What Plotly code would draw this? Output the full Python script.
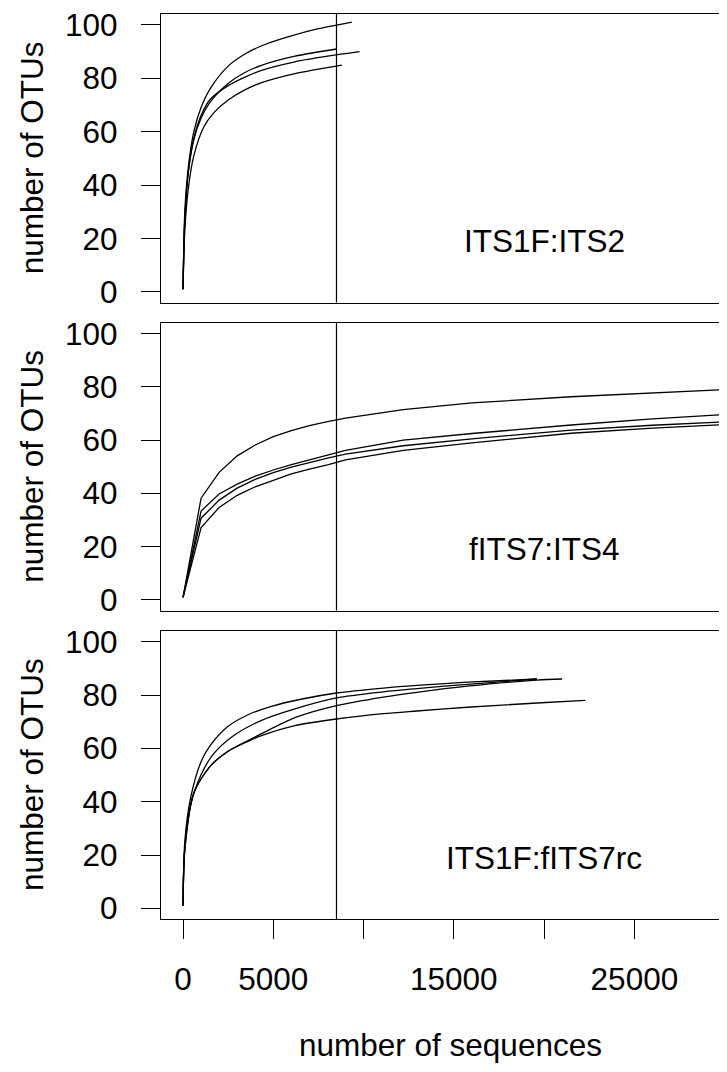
import plotly.graph_objects as go

# ---------------- data ----------------
panel_labels = ["ITS1F:ITS2", "fITS7:ITS4", "ITS1F:fITS7rc"]
y_tick_vals = [0, 20, 40, 60, 80, 100]
x_tick_vals = [0, 5000, 10000, 15000, 20000, 25000, 30000]
x_tick_text = ["0", "5000", "", "15000", "", "25000", ""]
rarefy_depth = 8500
label_x, label_y = 20000, 19

# panel 1: ITS1F:ITS2
p1_a_x = [1, 100, 300, 600, 1000, 1500, 2500, 3500, 4500, 6000, 7500, 9350]
p1_a_y = [1, 30, 47, 60, 69, 76, 84.5, 89.3, 92.5, 95.8, 98.5, 101]
p1_b_x = [1, 100, 300, 600, 1000, 1500, 2500, 3400, 4350, 6200, 8500]
p1_b_y = [1, 27, 45, 57, 65, 71, 78, 82, 84.8, 88.2, 90.9]
p1_c_x = [1, 100, 300, 600, 1000, 1500, 2500, 3400, 4350, 6200, 8100, 9780]
p1_c_y = [1, 27, 45.5, 57.5, 66, 72, 77.2, 80.3, 82.9, 86.1, 88.3, 89.9]
p1_d_x = [1, 100, 300, 600, 1150, 1700, 2500, 3400, 4350, 6200, 8800]
p1_d_y = [1, 23, 39, 51, 61.7, 67, 71.8, 75.5, 78.3, 81.7, 84.9]

# panel 2: fITS7:ITS4 (coarse steps of 1000 sequences)
p2_x = [1, 1000, 2000, 3000, 4000, 5000, 6000, 7000, 8000, 9000, 12200, 16000, 21500, 26000, 30480]
p2_e_y = [1, 38.2, 47.9, 54.1, 58.2, 61.3, 63.6, 65.5, 67, 68.3, 71.5, 74, 76.3, 77.8, 79.1]
p2_f_y = [1, 33.4, 39.8, 43.5, 46.5, 48.8, 50.8, 52.6, 54.2, 56.2, 60, 62.5, 65.7, 68, 69.8]
p2_g_y = [1, 30.7, 37.5, 42, 45.3, 47.8, 49.9, 51.7, 53.3, 54.8, 57.9, 60.5, 63.8, 65.6, 67]
p2_h_y = [1, 27.2, 34.7, 39.3, 42.5, 45, 47.3, 49.1, 50.7, 52.6, 56.2, 59, 62.6, 64.5, 66]

# panel 3: ITS1F:fITS7rc
p3_p_x = [1, 100, 400, 1000, 1500, 2500, 3600, 4900, 6600, 8500, 11100, 12950, 15750, 19600]
p3_p_y = [1, 25, 40.75, 55, 61, 68.25, 72.6, 75.75, 78.5, 80.75, 82.6, 83.6, 84.8, 86]
p3_q_x = [1, 100, 400, 1000, 1700, 2850, 4350, 6200, 8500, 11100, 12950, 15750, 19600]
p3_q_y = [1, 23, 38.25, 50.1, 58, 65, 70.5, 74.8, 78.9, 81.2, 82.4, 84, 86]
p3_r_x = [1, 100, 600, 1500, 2500, 3600, 4350, 6200, 8500, 11100, 12950, 15750, 19600, 21000]
p3_r_y = [1, 22, 43.25, 53.25, 58.9, 62.9, 65.5, 71.5, 76, 79.2, 81, 83.3, 85.6, 86]
p3_s_x = [1, 100, 600, 1500, 2500, 3600, 4350, 6200, 8500, 11100, 12950, 15750, 19600, 22280]
p3_s_y = [1, 22, 43.25, 53.25, 58.9, 62.6, 64.75, 68.5, 71, 73, 74, 75.4, 77, 78]

panels = [
    [(p1_a_x, p1_a_y), (p1_b_x, p1_b_y), (p1_c_x, p1_c_y), (p1_d_x, p1_d_y)],
    [(p2_x, p2_e_y), (p2_x, p2_f_y), (p2_x, p2_g_y), (p2_x, p2_h_y)],
    [(p3_p_x, p3_p_y), (p3_q_x, p3_q_y), (p3_r_x, p3_r_y), (p3_s_x, p3_s_y)],
]
panel_shape = ["spline", "linear", "spline"]

# ---------------- layout (page pixel positions, body margin = 8px) ----------------
OFF = 8
W, H = 727 - OFF, 1072 - OFF


def px(p):
    return p - OFF


ML = px(161)
MT = px(13.7)
MB = H - px(918.7)
plot_h = H - MT - MB
plot_w = W - ML
panel_px = [(13.7, 302.3), (322.7, 610.3), (630.7, 918.7)]
FONT = "Liberation Sans, Arial, sans-serif"
FS = 31.5
x_range = [-1219, 30579 - OFF * 56.18]


def frac(py):
    return (H - MB - px(py)) / plot_h


fig = go.Figure()
shapes = []
annotations = []
for i, curves in enumerate(panels):
    n = "" if i == 0 else str(i + 1)
    for cx, cy in curves:
        fig.add_trace(go.Scatter(
            x=cx, y=cy, mode="lines", xaxis="x" + n, yaxis="y" + n,
            line=dict(color="black", width=1.3, shape=panel_shape[i], smoothing=0.8),
            showlegend=False, hoverinfo="skip"))
    top, bot = panel_px[i]
    dom = [frac(bot), frac(top)]
    last = i == 2
    fig.layout["xaxis" + n] = dict(
        domain=[0, 1], anchor="y" + n, range=x_range, showgrid=False, zeroline=False,
        showline=True, mirror=True, linecolor="black", linewidth=1.2,
        ticks="outside" if last else "", ticklen=19, tickwidth=1.2, tickcolor="black",
        tickvals=x_tick_vals if last else [], ticktext=x_tick_text if last else [],
        showticklabels=last, ticklabelstandoff=13, ticklabeloverflow="allow",
        tickfont=dict(family=FONT, size=FS, color="black"))
    fig.layout["yaxis" + n] = dict(
        domain=dom, anchor="x" + n, range=[-4, 104], showgrid=False, zeroline=False,
        showline=True, linecolor="black", linewidth=1.2,
        ticks="outside", ticklen=19, tickwidth=1.2, tickcolor="black",
        tickvals=y_tick_vals, ticklabelstandoff=17, ticklabeloverflow="allow",
        tickfont=dict(family=FONT, size=FS, color="black"))
    shapes.append(dict(type="line", xref="x" + n, yref="y" + n + " domain",
                       x0=rarefy_depth, x1=rarefy_depth, y0=0, y1=1,
                       line=dict(color="black", width=1.2)))
    annotations.append(dict(x=label_x, y=label_y, xref="x" + n, yref="y" + n,
                            text=panel_labels[i], showarrow=False,
                            xanchor="center", yanchor="middle",
                            font=dict(family=FONT, size=FS, color="black")))
    annotations.append(dict(x=0, y=(dom[0] + dom[1]) / 2, xref="paper", yref="paper",
                            text="number of OTUs", textangle=-90, showarrow=False,
                            xanchor="center", yanchor="middle", xshift=32 - 161,
                            font=dict(family=FONT, size=FS, color="black")))

annotations.append(dict(x=(450 - 161) / plot_w, y=0, xref="paper", yref="paper",
                        text="number of sequences", showarrow=False,
                        xanchor="center", yanchor="middle", yshift=-(1045 - 918.7),
                        font=dict(family=FONT, size=FS, color="black")))

fig.update_layout(
    width=W, height=H, margin=dict(l=ML, r=0, t=MT, b=MB, pad=0),
    paper_bgcolor="white", plot_bgcolor="white",
    shapes=shapes, annotations=annotations, showlegend=False)

fig.write_html("out.html")
